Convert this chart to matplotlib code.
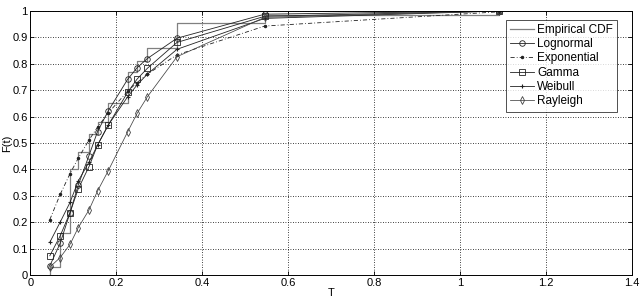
import numpy as np
import matplotlib
matplotlib.use("Agg")
import matplotlib.pyplot as plt

plt.rcParams['font.family'] = ['Liberation Sans', 'DejaVu Sans']

# failure times (sample points)
t = [0.045, 0.069, 0.092, 0.111, 0.136, 0.156, 0.181, 0.226, 0.248, 0.272, 0.341, 0.545, 1.09]

# empirical CDF levels after each sample
ecdf = [0.03, 0.16, 0.40, 0.465, 0.535, 0.58, 0.65, 0.77, 0.81, 0.86, 0.955, 0.985, 1.0]

# fitted CDFs evaluated at the sample points
lognormal = [0.035, 0.12, 0.236, 0.34, 0.452, 0.543, 0.622, 0.741, 0.785, 0.82, 0.897, 0.988, 1.0]
exponential = [0.21, 0.305, 0.384, 0.442, 0.511, 0.56, 0.614, 0.696, 0.729, 0.761, 0.834, 0.943, 0.997]
gamma = [0.073, 0.148, 0.236, 0.326, 0.41, 0.492, 0.568, 0.692, 0.742, 0.783, 0.881, 0.98, 1.0]
weibull = [0.124, 0.2, 0.275, 0.356, 0.427, 0.492, 0.568, 0.675, 0.72, 0.761, 0.855, 0.972, 1.0]
rayleigh = [0.03, 0.066, 0.116, 0.179, 0.246, 0.318, 0.395, 0.542, 0.612, 0.675, 0.827, 0.976, 1.0]

xticks = [0, 0.2, 0.4, 0.6, 0.8, 1, 1.2, 1.4]
yticks = [0, 0.1, 0.2, 0.3, 0.4, 0.5, 0.6, 0.7, 0.8, 0.9, 1]

fig = plt.figure(figsize=(6.42, 3.0), dpi=100)
ax = fig.add_axes([0.0475, 0.0833, 0.937, 0.88])

# empirical CDF as stairs starting from zero
ax.step([t[0]] + t, [0] + ecdf, where='post', color='#808080', lw=0.9, label='Empirical CDF')

lc = '#222222'
ax.plot(t, lognormal, '-', color=lc, lw=0.6, marker='o', ms=4, mfc='none', mew=0.6, label='Lognormal')
ax.plot(t, exponential, color=lc, lw=0.6, dashes=(5, 2.5, 1, 2.5), marker='.', ms=3, label='Exponential')
ax.plot(t, gamma, '-', color=lc, lw=0.6, marker='s', ms=4, mfc='none', mew=0.6, label='Gamma')
ax.plot(t, weibull, '-', color=lc, lw=0.6, marker='+', ms=3.5, mew=0.8, label='Weibull')
ax.plot(t, rayleigh, '-', color='#444444', lw=0.55, marker='d', ms=4, mfc='none', mew=0.6, label='Rayleigh')

ax.set_xlim(0, 1.4)
ax.set_ylim(0, 1)
ax.set_xticks(xticks)
ax.set_xticklabels([f'{v:g}' for v in xticks])
ax.set_yticks(yticks)
ax.set_yticklabels([f'{v:g}' for v in yticks])
ax.tick_params(direction='in', length=3, width=0.6, labelsize=8, top=True, right=True, pad=2)
ax.grid(True, color='black', lw=0.6, dashes=(1, 2))
for s in ax.spines.values():
    s.set_linewidth(0.7)

ax.set_xlabel('T', fontsize=8, labelpad=0)
ax.set_ylabel('F(t)', fontsize=8)
ax.yaxis.set_label_coords(-0.03, 0.5)

leg = ax.legend(loc='upper right', fontsize=8.5, frameon=True, fancybox=False,
                edgecolor='black', handlelength=2.0, handletextpad=0.3,
                labelspacing=0.2, borderpad=0.35, bbox_to_anchor=(0.985, 0.99))
leg.get_frame().set_linewidth(0.6)

fig.savefig('out.png', dpi=100)
